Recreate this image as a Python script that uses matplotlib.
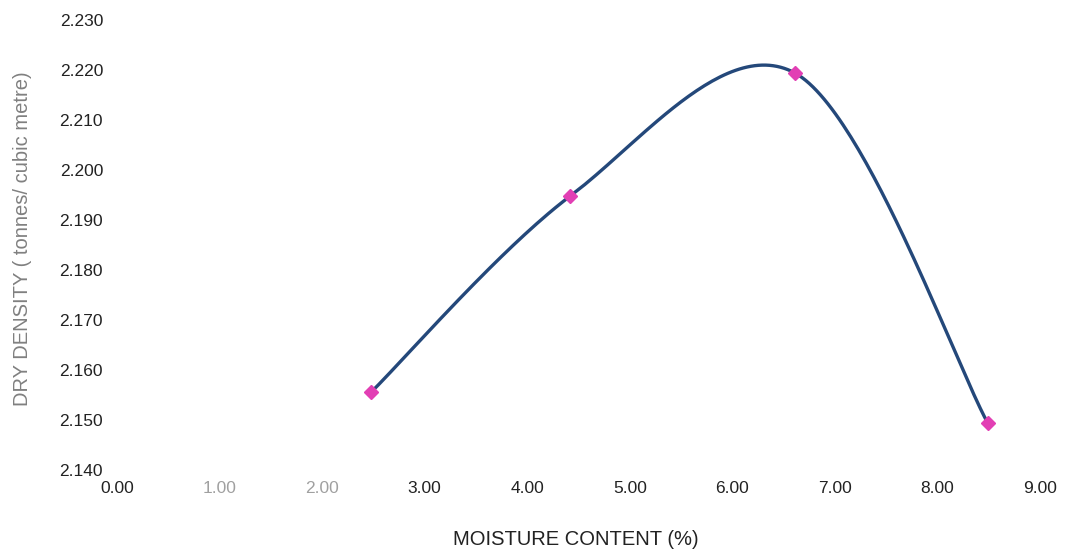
import numpy as np
import matplotlib
matplotlib.use("Agg")
import matplotlib.pyplot as plt

plt.rcParams['font.family'] = ['Liberation Sans', 'DejaVu Sans']

moisture = [2.48, 4.42, 6.61, 8.49]
density = [2.1556, 2.1948, 2.2194, 2.1494]
x_ticks = [0, 1, 2, 3, 4, 5, 6, 7, 8, 9]
y_ticks = [2.140, 2.150, 2.160, 2.170, 2.180, 2.190, 2.200, 2.210, 2.220, 2.230]


def smooth(xs, ys, n=60):
    P = np.column_stack([xs, ys])
    P = np.vstack([P[0], P, P[-1]])
    out = []
    for i in range(1, len(P) - 2):
        p0, p1, p2, p3 = P[i - 1], P[i], P[i + 1], P[i + 2]
        c1 = p1 + (p2 - p0) / 6
        c2 = p2 - (p3 - p1) / 6
        t = np.linspace(0, 1, n)[:, None]
        seg = (1 - t) ** 3 * p1 + 3 * (1 - t) ** 2 * t * c1 + 3 * (1 - t) * t ** 2 * c2 + t ** 3 * p2
        out.append(seg)
    s = np.vstack(out)
    return s[:, 0], s[:, 1]


fig = plt.figure(figsize=(10.70, 5.49), dpi=100)
ax = fig.add_axes([0.1093, 0.1439, 0.8627, 0.8197])

sx, sy = smooth(moisture, density)
ax.plot(sx, sy, color='#24487a', lw=2.4, zorder=2)
ax.plot(moisture, density, linestyle='none', marker='D', markersize=7.5,
        color='#e23fb4', markeredgecolor='#e23fb4', zorder=3)

ax.set_xlim(0, 9)
ax.set_ylim(2.140, 2.230)
ax.set_xticks(x_ticks)
ax.set_yticks(y_ticks)
ax.set_xticklabels([f"{v:.2f}" for v in x_ticks])
ax.set_yticklabels([f"{v:.3f}" for v in y_ticks])
for sp in ax.spines.values():
    sp.set_visible(False)
ax.tick_params(axis='both', length=0, labelsize=12.5, colors='#222222')
ax.tick_params(axis='y', pad=10)
ax.tick_params(axis='x', pad=8)
for i, lab in enumerate(ax.get_xticklabels()):
    if i in (1, 2):
        lab.set_color('#a0a0a0')

ax.set_xlabel('MOISTURE CONTENT (%)', fontsize=14.5, color='#222222')
ax.set_ylabel('DRY DENSITY ( tonnes/ cubic metre)', fontsize=14.5, color='#808080')
ax.xaxis.set_label_coords(0.497, -0.134)
ax.yaxis.set_label_coords(-0.0915, 0.515)

fig.savefig('out.png', dpi=100)
